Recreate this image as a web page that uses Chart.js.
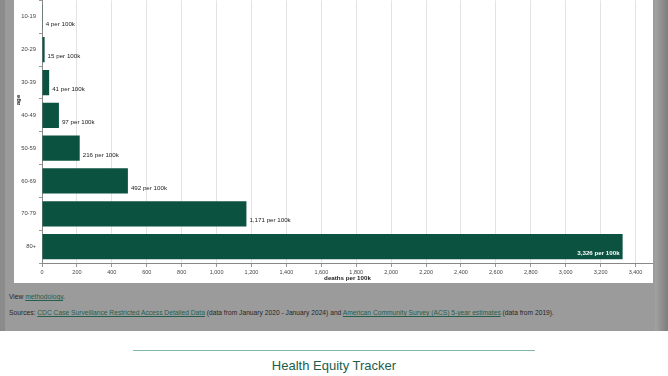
<!DOCTYPE html>
<html>
<head>
<meta charset="utf-8">
<script src="https://cdn.jsdelivr.net/npm/chart.js@4"></script>
<style>
  html, body { margin: 0; padding: 0; }
  body { width: 668px; height: 376px; position: relative; overflow: hidden; background: #fff; font-family: "Liberation Sans", Arial, sans-serif; }
  #shade { position: absolute; left: 0; top: 0; width: 668px; height: 331px; background: #9b9b9b; }
  #edgeL { position: absolute; left: 0; top: 0; width: 5px; height: 331px; background: #8b8b8b; }
  #edgeR { position: absolute; left: 655px; top: 0; width: 13px; height: 331px; background: linear-gradient(to right, #a3a3a3, #7d7d7d); }
  #panel { position: absolute; left: 14px; top: 0; width: 639px; height: 283px; background: #fff; overflow: hidden; }
  #wrap { position: absolute; left: 0; top: -6px; width: 639px; height: 289px; }
  .note { position: absolute; left: 9px; font-size: 6.7px; color: #262626; white-space: nowrap; }
  .note a { color: #24604d; text-decoration: underline; }
  #rule { position: absolute; left: 133px; top: 350px; width: 402px; height: 1px; background: #83b8a6; }
  #brand { position: absolute; left: 0; width: 668px; top: 358px; text-align: center; font-size: 13px; color: #1c5e4a; }
</style>
</head>
<body>
<div id="shade"></div>
<div id="edgeL"></div>
<div id="edgeR"></div>
<div id="panel"><div id="wrap"><canvas id="chart"></canvas></div></div>
<div class="note" style="top:293px">View <a>methodology</a>.</div>
<div class="note" style="top:309px">Sources: <a>CDC Case Surveillance Restricted Access Detailed Data</a> (data from January 2020 - January 2024) and <a>American Community Survey (ACS) 5-year estimates</a> (data from 2019).</div>
<div id="rule"></div>
<div id="brand">Health Equity Tracker</div>
<script>
const ageGroups = ["10-19", "20-29", "30-39", "40-49", "50-59", "60-69", "70-79", "80+"];
const deathsPer100k = [4, 15, 41, 97, 216, 492, 1171, 3326];
const barColor = "#0b5240";
const fontFamily = "'Liberation Sans', Arial, sans-serif";

// value labels at the end of each bar, inside when they would not fit
const barLabels = {
  id: "barLabels",
  afterDatasetsDraw(chart) {
    const ctx = chart.ctx;
    const area = chart.chartArea;
    const meta = chart.getDatasetMeta(0);
    ctx.save();
    ctx.textBaseline = "middle";
    meta.data.forEach((bar, i) => {
      const text = deathsPer100k[i].toLocaleString("en-US") + " per 100k";
      ctx.font = "6.2px " + fontFamily;
      const w = ctx.measureText(text).width;
      const y = bar.y + 7;
      if (bar.x + 3 + w > area.right) {
        ctx.font = "bold 6.2px " + fontFamily;
        ctx.fillStyle = "#fff";
        ctx.textAlign = "right";
        ctx.fillText(text, bar.x - 3, y);
      } else {
        ctx.fillStyle = "#222";
        ctx.textAlign = "left";
        ctx.fillText(text, bar.x + 3, y);
      }
    });
    ctx.restore();
  }
};

// "age" axis title sits higher than the plot centre in the original
const ageTitle = {
  id: "ageTitle",
  afterDraw(chart) {
    const ctx = chart.ctx;
    ctx.save();
    ctx.translate(4.5, 106);
    ctx.rotate(-Math.PI / 2);
    ctx.font = "bold 6.2px " + fontFamily;
    ctx.fillStyle = "#222";
    ctx.textAlign = "center";
    ctx.textBaseline = "middle";
    ctx.fillText("age", 0, 0);
    ctx.restore();
  }
};

new Chart(document.getElementById("chart"), {
  type: "bar",
  data: {
    labels: ageGroups,
    datasets: [{
      data: deathsPer100k,
      backgroundColor: barColor,
      barPercentage: 0.77,
      categoryPercentage: 1
    }]
  },
  plugins: [barLabels, ageTitle],
  options: {
    indexAxis: "y",
    responsive: true,
    maintainAspectRatio: false,
    animation: false,
    layout: { autoPadding: false, padding: 0 },
    plugins: {
      legend: { display: false },
      tooltip: { enabled: false }
    },
    scales: {
      x: {
        min: 0,
        max: 3500,
        afterFit(scale) { scale.height = 20; },
        border: { color: "#888" },
        grid: { color: "#e3e3e3", tickColor: "#999", tickLength: 4 },
        ticks: {
          stepSize: 100,
          autoSkip: false,
          maxRotation: 0,
          padding: 2,
          color: "#444",
          font: { family: fontFamily, size: 5.5 },
          callback: (v) => (v % 200 === 0 && v <= 3400 ? v.toLocaleString("en-US") : null)
        },
        title: {
          display: true,
          text: "deaths per 100k",
          color: "#222",
          padding: { top: 0, bottom: 1 },
          font: { family: fontFamily, size: 6.2, weight: "bold" }
        }
      },
      y: {
        afterFit(scale) { scale.width = 28; },
        border: { color: "#888" },
        grid: { drawOnChartArea: false, tickColor: "#999", tickLength: 3 },
        ticks: {
          padding: 3,
          color: "#444",
          font: { family: fontFamily, size: 5.8 }
        },
        title: { display: false }
      }
    }
  }
});
</script>
</body>
</html>
